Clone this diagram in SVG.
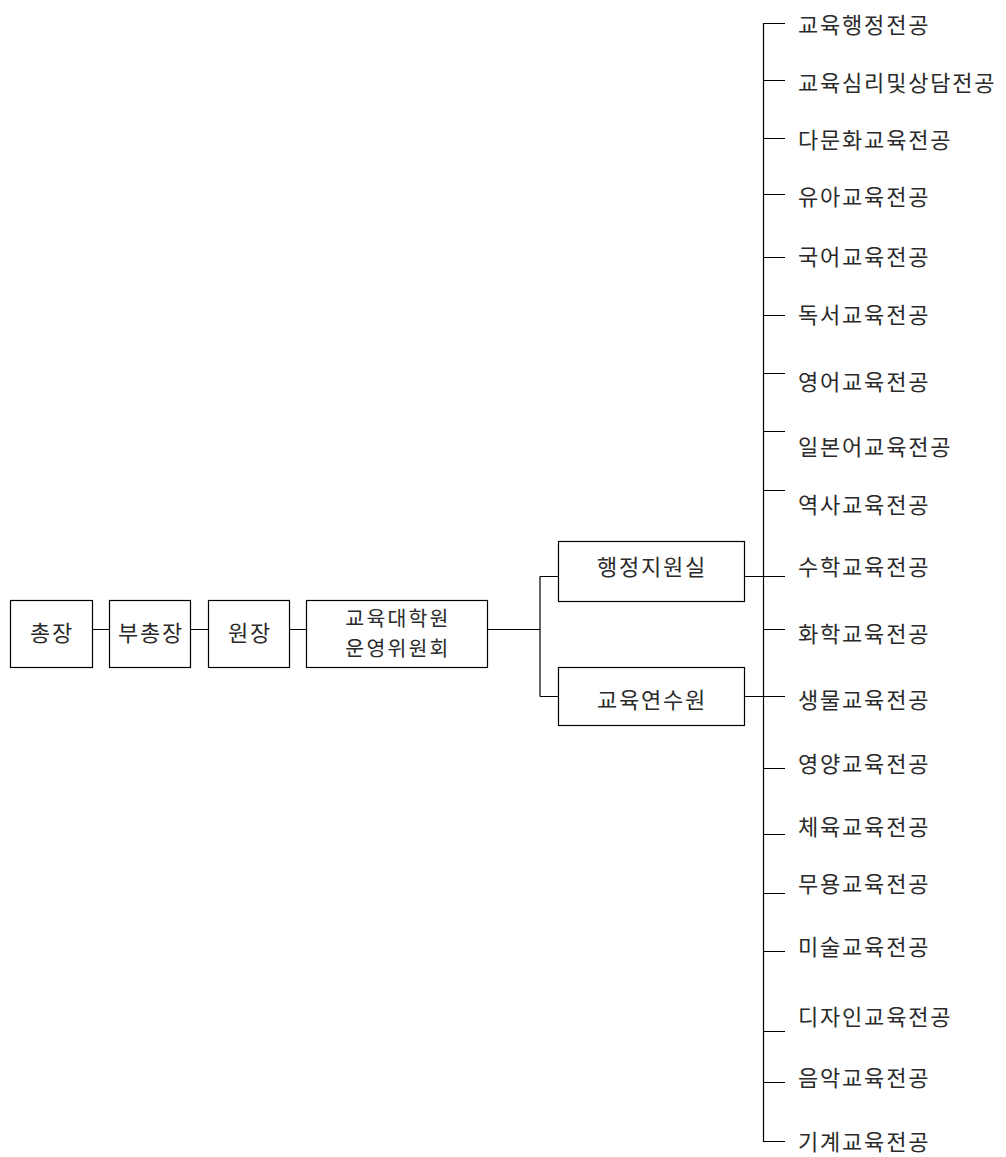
<svg xmlns="http://www.w3.org/2000/svg" width="1006" height="1157" viewBox="0 0 1006 1157">
<style>
.box{fill:#fff;stroke:#000;stroke-width:1.2}
.t{font-family:"Noto Sans CJK KR","Noto Sans",sans-serif;font-size:22px;letter-spacing:1.8px;fill:#2a2a2a}
.s{font-size:20.5px;letter-spacing:2.2px}
.c{text-anchor:middle}
.ln{stroke:#000;stroke-width:1.2;fill:none}
</style>
<rect width="1006" height="1157" fill="#fff"/>
<g id="connectors">
<path class="ln" d="M92 629.5H109M190 629.5H208M289 629.5H306M487 629.5H540M540 576.5V696.5M540 576.5H558M540 696.5H558"/>
<path class="ln" d="M744 576.5H785M744 696.5H785M763.5 629.5H785"/>
<path class="ln" d="M785 23.5H763.5V1141.5H785"/>
<path class="ln" d="M763.5 80.5H785M763.5 138.5H785M763.5 194.5H785M763.5 257.5H785M763.5 315.5H785M763.5 373.5H785M763.5 431.5H785M763.5 490.5H785M763.5 768.5H785M763.5 834.5H785M763.5 893.5H785M763.5 951.5H785M763.5 1031.5H785M763.5 1082.5H785"/>
</g>
<g id="n-chongjang"><rect class="box" x="10.5" y="600.5" width="82" height="67"/><text class="t c" x="52" y="641">총장</text></g>
<g id="n-buchongjang"><rect class="box" x="109.5" y="600.5" width="81" height="67"/><text class="t c" x="151" y="641">부총장</text></g>
<g id="n-wonjang"><rect class="box" x="208.5" y="600.5" width="81" height="67"/><text class="t c" x="250" y="641">원장</text></g>
<g id="n-committee"><rect class="box" x="306.5" y="600.5" width="181" height="67"/><text class="t s c" x="398" y="626">교육대학원</text><text class="t s c" x="398" y="656">운영위원회</text></g>
<g id="n-admin"><rect class="box" x="558.5" y="541.5" width="186" height="60"/><text class="t c" x="652" y="575">행정지원실</text></g>
<g id="n-training"><rect class="box" x="558.5" y="667.5" width="186" height="58"/><text class="t c" x="652" y="708">교육연수원</text></g>
<g id="majors">
<text class="t" x="798" y="33">교육행정전공</text>
<text class="t" x="798" y="91">교육심리및상담전공</text>
<text class="t" x="798" y="148">다문화교육전공</text>
<text class="t" x="798" y="205">유아교육전공</text>
<text class="t" x="798" y="265">국어교육전공</text>
<text class="t" x="798" y="323">독서교육전공</text>
<text class="t" x="798" y="390">영어교육전공</text>
<text class="t" x="798" y="455">일본어교육전공</text>
<text class="t" x="798" y="513">역사교육전공</text>
<text class="t" x="798" y="575">수학교육전공</text>
<text class="t" x="798" y="642">화학교육전공</text>
<text class="t" x="798" y="708">생물교육전공</text>
<text class="t" x="798" y="772">영양교육전공</text>
<text class="t" x="798" y="835">체육교육전공</text>
<text class="t" x="798" y="892">무용교육전공</text>
<text class="t" x="798" y="955">미술교육전공</text>
<text class="t" x="798" y="1025">디자인교육전공</text>
<text class="t" x="798" y="1086">음악교육전공</text>
<text class="t" x="798" y="1150">기계교육전공</text>
</g>
</svg>
